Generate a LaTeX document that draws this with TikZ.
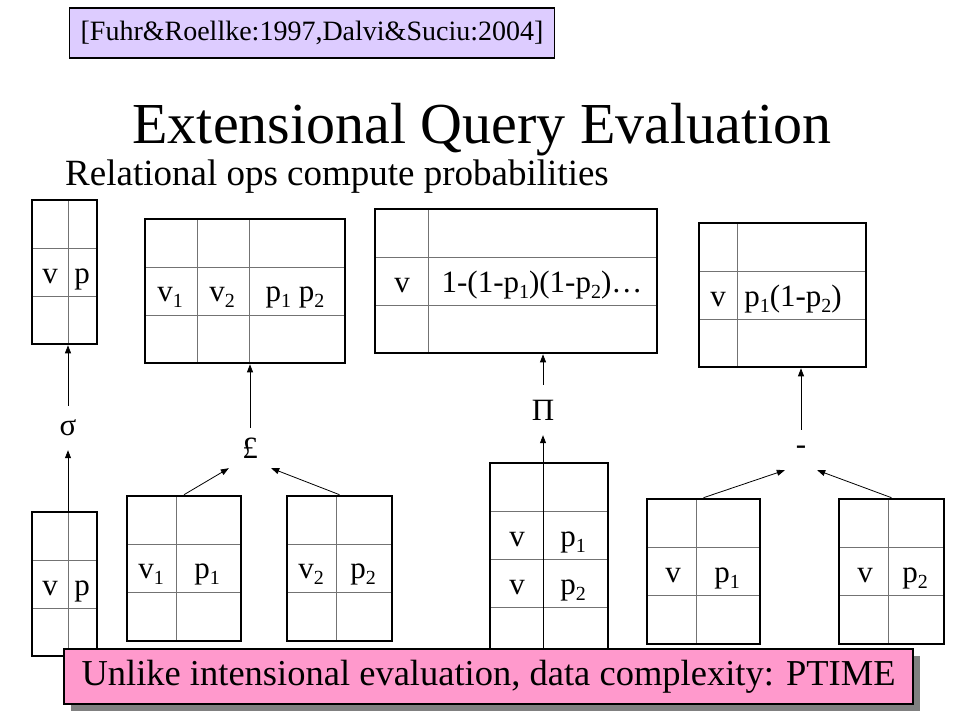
\documentclass[tikz,border=0pt]{standalone}
\usepackage{fontspec}
\setmainfont{Liberation Serif}
\usetikzlibrary{positioning,arrows.meta,shadows}

\definecolor{citefill}{HTML}{DDCCFF}
\definecolor{notefill}{HTML}{FF99CC}

% lowered index digit, as in v1, p2
\newcommand{\ix}[1]{\raisebox{-6pt}{\fontsize{20}{20}\selectfont #1}}

\tikzset{
  tbl/.style={draw, line width=2.6pt, inner sep=0pt},
  cell/.style={draw=black!55, line width=1pt},
  val/.style={anchor=base, inner sep=0pt, font=\fontsize{31}{31}\selectfont},
  oper/.style={inner sep=0pt, font=\fontsize{31}{31}\selectfont},
  flow/.style={-{Triangle[length=8pt,width=6pt]}, line width=0.8pt},
}

\begin{document}
\begin{tikzpicture}[x=1pt, y=-1pt]
\useasboundingbox (0,0) rectangle (960,720);

% header
\node[draw, fill=citefill, line width=1.2pt, minimum width=485pt, minimum height=50pt,
      font=\fontsize{28}{28}\selectfont] (cite) at (312,33) {[Fuhr\&Roellke:1997,Dalvi\&Suciu:2004]};
\node[anchor=base, font=\fontsize{58}{58}\selectfont] (title) at (482,143) {Extensional Query Evaluation};
\node[anchor=base west, inner sep=0pt, font=\fontsize{37}{37}\selectfont] (sub) at (65,185) {Relational ops compute probabilities};

% selection
\draw[cell] (68,200) -- (68,344);
\foreach \y in {248,296} \draw[cell] (32,\y) -- (97,\y);
\node[tbl, minimum width=65pt, minimum height=144pt] (selOut) at (64.5,272) {};
\node[val] at (50,283) {v};
\node[val] at (82,283) {p};

\draw[cell] (68,512) -- (68,656);
\foreach \y in {560,608} \draw[cell] (32,\y) -- (97,\y);
\node[tbl, minimum width=65pt, minimum height=144pt] (selIn) at (64.5,584) {};
\node[val] at (50,595) {v};
\node[val] at (82,595) {p};

\node[oper, minimum height=44pt] (sigma) at (68,428) {σ};
\draw[flow] (sigma |- selIn.north) -- (sigma.south);
\draw[flow] (sigma.north) -- (sigma |- selOut.south);

% join
\foreach \x in {197,249} \draw[cell] (\x,219) -- (\x,363);
\foreach \y in {267,315} \draw[cell] (145,\y) -- (345,\y);
\node[tbl, minimum width=200pt, minimum height=144pt] (joinOut) at (245,291) {};
\node[val] at (170,301) {v\ix{1}};
\node[val] at (222,301) {v\ix{2}};
\node[val] at (295,301) {p\ix{1} p\ix{2}};

\draw[cell] (176,496) -- (176,641);
\foreach \y in {544,592} \draw[cell] (127,\y) -- (241,\y);
\node[tbl, minimum width=114pt, minimum height=145pt] (joinL) at (184,568.5) {};
\node[val] at (151,578) {v\ix{1}};
\node[val] at (207,578) {p\ix{1}};

\draw[cell] (336,496) -- (336,641);
\foreach \y in {544,592} \draw[cell] (287,\y) -- (392,\y);
\node[tbl, minimum width=105pt, minimum height=145pt] (joinR) at (339.5,568.5) {};
\node[val] at (311,578) {v\ix{2}};
\node[val] at (363,578) {p\ix{2}};

\node[oper, minimum width=42pt, minimum height=40pt] (join) at (250,448) {£};
\draw[flow] (joinL.north) -- (join.south west);
\draw[flow] (joinR.north) -- (join.south east);
\draw[flow] (join.north) -- (join.north |- joinOut.south);

% projection
\draw[cell] (428,209) -- (428,353);
\foreach \y in {257,305} \draw[cell] (375,\y) -- (657,\y);
\node[tbl, minimum width=282pt, minimum height=144pt] (projOut) at (516,281) {};
\node[val] at (402,292) {v};
\node[val] at (542,292) {1-(1-p\ix{1})(1-p\ix{2})…};

\draw[cell] (543,463) -- (543,655);
\foreach \y in {511,559,607} \draw[cell] (490,\y) -- (608,\y);
\node[tbl, minimum width=118pt, minimum height=192pt] (projIn) at (549,559) {};
\node[val] at (517,546) {v};
\node[val] at (573,546) {p\ix{1}};
\node[val] at (517,594) {v};
\node[val] at (573,594) {p\ix{2}};

\node[oper, minimum height=50pt] (proj) at (543,410) {Π};
\draw[flow] (proj |- projIn.south) -- (proj.south);
\draw[flow] (proj.north) -- (proj.north |- projOut.south);

% difference
\draw[cell] (737,223) -- (737,367);
\foreach \y in {271,319} \draw[cell] (699,\y) -- (866,\y);
\node[tbl, minimum width=167pt, minimum height=144pt] (diffOut) at (782.5,295) {};
\node[val] at (718,306) {v};
\node[val] at (793,306) {p\ix{1}(1-p\ix{2})};

\draw[cell] (696,499) -- (696,644);
\foreach \y in {547,595} \draw[cell] (647,\y) -- (760,\y);
\node[tbl, minimum width=113pt, minimum height=145pt] (diffL) at (703.5,571.5) {};
\node[val] at (673,582) {v};
\node[val] at (727,582) {p\ix{1}};

\draw[cell] (888,499) -- (888,644);
\foreach \y in {547,595} \draw[cell] (839,\y) -- (944,\y);
\node[tbl, minimum width=105pt, minimum height=145pt] (diffR) at (891.5,571.5) {};
\node[val] at (865,582) {v};
\node[val] at (915,582) {p\ix{2}};

\node[oper, minimum width=32pt, minimum height=40pt] (diff) at (801,450) {-};
\draw[flow] (diffL.north) -- (diff.south west);
\draw[flow] (diffR.north) -- (diff.south east);
\draw[flow] (diff.north) -- (diff.north |- diffOut.south);

% footnote
\node[draw, fill=notefill, line width=1.2pt, minimum width=849pt, minimum height=55pt,
      drop shadow={shadow xshift=7pt, shadow yshift=-7pt, fill=black!50, opacity=1},
      font=\fontsize{36.5}{36.5}\selectfont] (note) at (488.5,676.5) {Unlike intensional evaluation, data complexity: PTIME};
\end{tikzpicture}
\end{document}
